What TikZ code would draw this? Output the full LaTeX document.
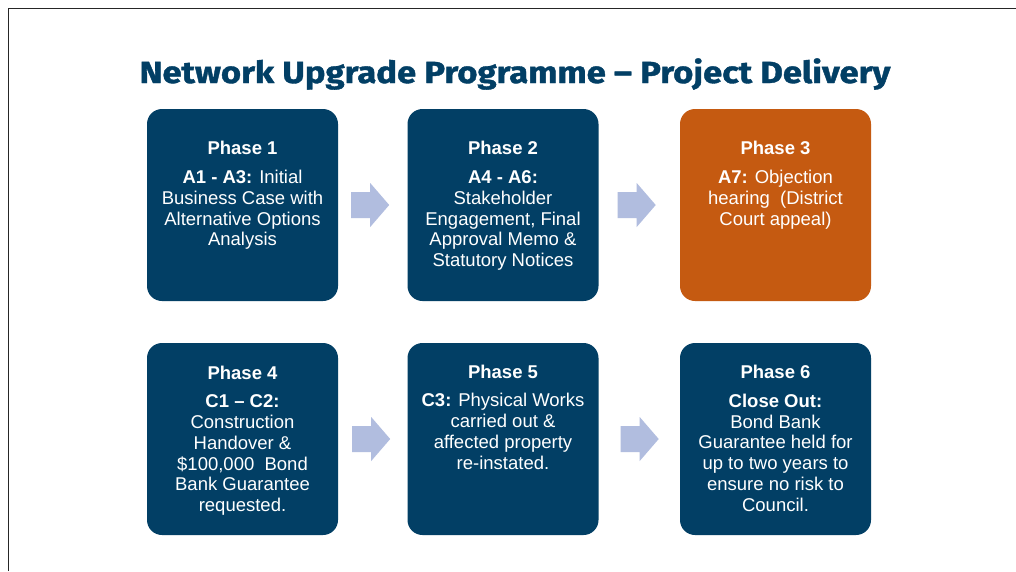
\documentclass[tikz,border=0pt]{standalone}
\usepackage{fontspec}
\setmainfont{Liberation Sans}
\newfontfamily\titlefont[BoldFeatures={FakeBold=1.2}]{Fira Sans}
\usetikzlibrary{calc}
\definecolor{navy}{HTML}{023F65}
\definecolor{burnt}{HTML}{C55A11}
\definecolor{arrowfill}{HTML}{B1BDDF}
\begin{document}
\begin{tikzpicture}[x=1pt,y=-1pt,
  phasebox/.style={fill=navy, rounded corners=15pt, minimum width=191pt, minimum height=192pt, inner sep=0pt, draw=none},
  phasetext/.style={text=white, align=center, inner sep=0pt, anchor=north, font=\fontsize{18.5}{20.8}\selectfont},
  blockarrow/.style={fill=arrowfill, draw=none}]
\useasboundingbox (0,0) rectangle (1016,571);
\fill[white] (0,0) rectangle (1016,571);
\draw[line width=1.5pt, black!85] (8.5,571) -- (8.5,8.5) -- (1016,8.5);

\node[font=\titlefont\bfseries\fontsize{30.5}{36}\selectfont, text=navy, anchor=base, inner sep=0pt] (title) at (515,83) {\scalebox{1.135}[1]{Network Upgrade Programme – Project Delivery}};

\node[phasebox] (p1) at (242.5,205) {};
\node[phasebox] (p2) at (503,205) {};
\node[phasebox, fill=burnt] (p3) at (775.5,205) {};
\node[phasebox] (p4) at (242.5,439) {};
\node[phasebox] (p5) at (503,439) {};
\node[phasebox] (p6) at (775.5,439) {};

\node[phasetext] (t1) at ($(p1.north)+(0,32)$) {\textbf{Phase 1}\\[8.2pt]\textbf{A1 - A3:} Initial\\Business Case with\\Alternative Options\\Analysis};
\node[phasetext] (t2) at ($(p2.north)+(0,32)$) {\textbf{Phase 2}\\[8.2pt]\textbf{A4 - A6:}\\Stakeholder\\Engagement, Final\\Approval Memo \&\\Statutory Notices};
\node[phasetext] (t3) at ($(p3.north)+(0,32)$) {\textbf{Phase 3}\\[8.2pt]\textbf{A7:} Objection\\hearing\ \ (District\\Court appeal)};
\node[phasetext] (t4) at ($(p4.north)+(0,23)$) {\textbf{Phase 4}\\[7.5pt]\textbf{C1 – C2:}\\Construction\\Handover \&\\\$100,000\ \ Bond\\Bank Guarantee\\requested.};
\node[phasetext] (t5) at ($(p5.north)+(0,22)$) {\textbf{Phase 5}\\[7.5pt]\textbf{C3:} Physical Works\\carried out \&\\affected property\\re-instated.};
\node[phasetext] (t6) at ($(p6.north)+(0,22)$) {\textbf{Phase 6}\\[8pt]\textbf{Close Out:}\\Bond Bank\\Guarantee held for\\up to two years to\\ensure no risk to\\Council.};

\fill[blockarrow] ($(p1.east)+(13,-13)$) -- ++(19,0) -- ++(0,-9) -- ++(19,22) -- ++(-19,22) -- ++(0,-9) -- ++(-19,0) -- cycle;
\fill[blockarrow] ($(p2.east)+(19,-13)$) -- ++(19,0) -- ++(0,-9) -- ++(19,22) -- ++(-19,22) -- ++(0,-9) -- ++(-19,0) -- cycle;
\fill[blockarrow] ($(p4.east)+(14,-13)$) -- ++(19,0) -- ++(0,-9) -- ++(19,22) -- ++(-19,22) -- ++(0,-9) -- ++(-19,0) -- cycle;
\fill[blockarrow] ($(p5.east)+(22,-13)$) -- ++(19,0) -- ++(0,-9) -- ++(19,22) -- ++(-19,22) -- ++(0,-9) -- ++(-19,0) -- cycle;
\end{tikzpicture}
\end{document}
